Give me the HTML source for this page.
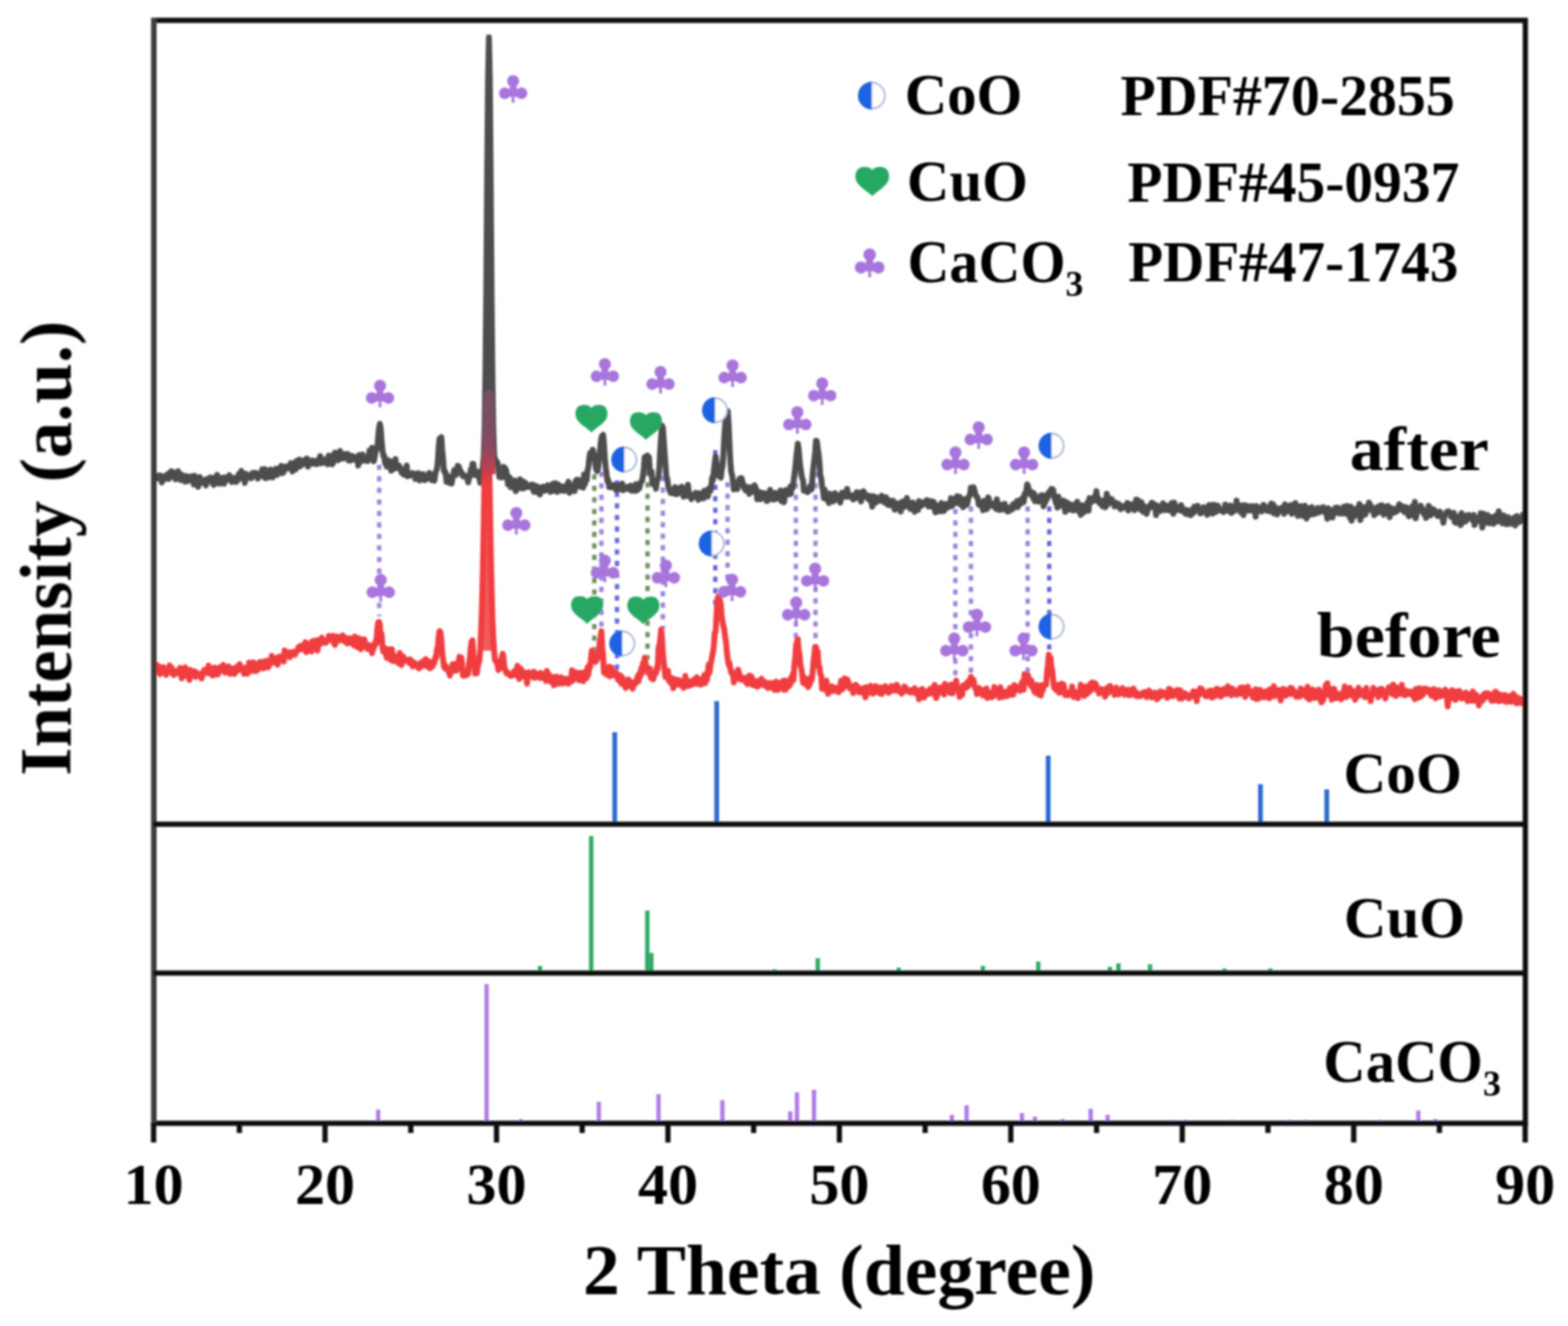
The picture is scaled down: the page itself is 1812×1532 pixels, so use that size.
<!DOCTYPE html>
<html><head><meta charset="utf-8"><title>XRD</title>
<style>html,body{margin:0;padding:0;background:#fff;overflow:hidden;} svg{display:block;} #w{width:1812px;height:1532px;}
text{font-family:'Liberation Serif', 'Times New Roman', serif;font-weight:bold;fill:#000;}</style></head>
<body><div id="w">
<svg width="1812" height="1532" viewBox="0 0 1812 1532">
<defs><filter id="bl" x="-1%" y="-1%" width="102%" height="102%"><feGaussianBlur stdDeviation="0.9"/></filter></defs>
<rect width="1812" height="1532" fill="#fff"/>
<g filter="url(#bl)">
<!-- sticks -->
<g stroke="#2a6ad0" stroke-width="5.5"><line x1="710.4" y1="952" x2="710.4" y2="846" /><line x1="828.2" y1="952" x2="828.2" y2="810" /><line x1="1211.3" y1="952" x2="1211.3" y2="873" /><line x1="1456.6" y1="952" x2="1456.6" y2="906" /><line x1="1533.2" y1="952" x2="1533.2" y2="912" /></g>
<g stroke="#2ea862" stroke-width="5"><line x1="624" y1="1124" x2="624" y2="1116" /><line x1="683.2" y1="1124" x2="683.2" y2="966" /><line x1="748" y1="1124" x2="748" y2="1052" /><line x1="752.7" y1="1124" x2="752.7" y2="1101" /><line x1="895" y1="1124" x2="895" y2="1120" /><line x1="945" y1="1124" x2="945" y2="1107" /><line x1="1038.6" y1="1124" x2="1038.6" y2="1118" /><line x1="1135.8" y1="1124" x2="1135.8" y2="1116" /><line x1="1199.8" y1="1124" x2="1199.8" y2="1111" /><line x1="1282.6" y1="1124" x2="1282.6" y2="1117" /><line x1="1292.5" y1="1124" x2="1292.5" y2="1113" /><line x1="1329" y1="1124" x2="1329" y2="1114" /><line x1="1415" y1="1124" x2="1415" y2="1119" /><line x1="1468" y1="1124" x2="1468" y2="1119" /></g>
<g stroke="#b07ce6" stroke-width="5"><line x1="437" y1="1297" x2="437" y2="1282" /><line x1="562.3" y1="1297" x2="562.3" y2="1137" /><line x1="602" y1="1297" x2="602" y2="1293" /><line x1="692" y1="1297" x2="692" y2="1273" /><line x1="761" y1="1297" x2="761" y2="1264" /><line x1="834.8" y1="1297" x2="834.8" y2="1271" /><line x1="913.2" y1="1297" x2="913.2" y2="1284" /><line x1="921" y1="1297" x2="921" y2="1262" /><line x1="940.7" y1="1297" x2="940.7" y2="1259" /><line x1="1100" y1="1297" x2="1100" y2="1288" /><line x1="1117" y1="1297" x2="1117" y2="1277" /><line x1="1181" y1="1297" x2="1181" y2="1286" /><line x1="1196" y1="1297" x2="1196" y2="1290" /><line x1="1228" y1="1297" x2="1228" y2="1293" /><line x1="1260.4" y1="1297" x2="1260.4" y2="1281" /><line x1="1280" y1="1297" x2="1280" y2="1288" /><line x1="1353" y1="1297" x2="1353" y2="1294" /><line x1="1370" y1="1297" x2="1370" y2="1294" /><line x1="1424" y1="1297" x2="1424" y2="1294" /><line x1="1490" y1="1297" x2="1490" y2="1294" /><line x1="1508" y1="1297" x2="1508" y2="1294" /><line x1="1594" y1="1297" x2="1594" y2="1294" /><line x1="1639" y1="1297" x2="1639" y2="1283" /><line x1="1658.6" y1="1297" x2="1658.6" y2="1293" /></g>
<!-- dotted guide lines -->
<line x1="438.2" y1="537" x2="438.2" y2="712" stroke="#9c84d8" stroke-width="5" stroke-dasharray="6 7.3"/><line x1="695" y1="545" x2="695" y2="735" stroke="#9c84d8" stroke-width="5" stroke-dasharray="6 7.3"/><line x1="766" y1="550" x2="766" y2="727" stroke="#9c84d8" stroke-width="5" stroke-dasharray="6 7.3"/><line x1="840.8" y1="557" x2="840.8" y2="690" stroke="#9c84d8" stroke-width="5" stroke-dasharray="6 7.3"/><line x1="919.7" y1="545" x2="919.7" y2="738" stroke="#9c84d8" stroke-width="5" stroke-dasharray="6 7.3"/><line x1="942.4" y1="545" x2="942.4" y2="742" stroke="#9c84d8" stroke-width="5" stroke-dasharray="6 7.3"/><line x1="1104" y1="588" x2="1104" y2="785" stroke="#9c84d8" stroke-width="5" stroke-dasharray="6 7.3"/><line x1="1122" y1="585" x2="1122" y2="781" stroke="#9c84d8" stroke-width="5" stroke-dasharray="6 7.3"/><line x1="1187.6" y1="585" x2="1187.6" y2="778" stroke="#9c84d8" stroke-width="5" stroke-dasharray="6 7.3"/><line x1="686.8" y1="548" x2="686.8" y2="755" stroke="#6f8f5f" stroke-width="5" stroke-dasharray="6 7.3"/><line x1="748.3" y1="544" x2="748.3" y2="762" stroke="#6f8f5f" stroke-width="5" stroke-dasharray="6 7.3"/><line x1="713" y1="555" x2="713" y2="792" stroke="#6666dc" stroke-width="5" stroke-dasharray="6 7.3"/><line x1="826.6" y1="520" x2="826.6" y2="700" stroke="#6666dc" stroke-width="5" stroke-dasharray="6 7.3"/><line x1="1212.5" y1="585" x2="1212.5" y2="755" stroke="#6666dc" stroke-width="5" stroke-dasharray="6 7.3"/>
<!-- curves -->
<defs><linearGradient id="rg" gradientUnits="userSpaceOnUse" x1="0" y1="450" x2="0" y2="565">
<stop offset="0" stop-color="#745066"/><stop offset="0.42" stop-color="#7e4c64"/><stop offset="0.6" stop-color="#8e4860"/><stop offset="0.82" stop-color="#c83e4c"/><stop offset="0.95" stop-color="#f03c40"/><stop offset="1" stop-color="#f03c40"/></linearGradient></defs>
<path d="M180.0,551.6L181.0,552.8L182.0,551.4L183.0,549.5L184.0,551.1L185.0,549.3L186.0,553.3L187.0,557.5L188.0,550.9L189.0,550.4L190.0,553.8L191.0,552.9L192.0,551.9L193.0,548.3L194.0,550.9L195.0,553.4L196.0,546.5L197.0,549.8L198.0,544.5L199.0,547.5L200.0,545.3L201.0,551.1L202.0,548.0L203.0,553.7L204.0,553.4L205.0,552.6L206.0,544.4L207.0,551.6L208.0,553.3L209.0,554.6L210.0,548.4L211.0,551.7L212.0,549.9L213.0,550.4L214.0,556.5L215.0,549.9L216.0,552.9L217.0,555.9L218.0,550.6L219.0,553.0L220.0,553.8L221.0,554.0L222.0,550.3L223.0,555.2L224.0,559.8L225.0,549.6L226.0,558.1L227.0,555.6L228.0,553.2L229.0,562.5L230.0,558.1L231.0,551.2L232.0,555.5L233.0,557.6L234.0,554.7L235.0,557.8L236.0,555.1L237.0,558.1L238.0,560.9L239.0,553.5L240.0,556.1L241.0,553.8L242.0,555.8L243.0,551.5L244.0,554.2L245.0,555.7L246.0,559.2L247.0,560.2L248.0,551.7L249.0,553.3L250.0,558.2L251.0,548.7L252.0,553.9L253.0,554.0L254.0,558.8L255.0,556.3L256.0,552.5L257.0,552.0L258.0,552.7L259.0,558.9L260.0,551.7L261.0,551.9L262.0,554.7L263.0,552.7L264.0,552.4L265.0,549.1L266.0,552.7L267.0,551.1L268.0,556.9L269.0,555.0L270.0,553.2L271.0,555.6L272.0,551.9L273.0,556.9L274.0,552.9L275.0,554.7L276.0,547.7L277.0,552.9L278.0,545.9L279.0,544.1L280.0,549.9L281.0,547.3L282.0,550.8L283.0,558.0L284.0,547.4L285.0,548.3L286.0,550.9L287.0,551.6L288.0,549.0L289.0,548.8L290.0,552.6L291.0,551.8L292.0,546.4L293.0,549.6L294.0,549.8L295.0,546.2L296.0,550.4L297.0,546.8L298.0,552.9L299.0,549.6L300.0,549.0L301.0,546.9L302.0,548.6L303.0,542.3L304.0,545.1L305.0,550.9L306.0,542.0L307.0,552.3L308.0,543.5L309.0,552.0L310.0,546.0L311.0,551.1L312.0,548.3L313.0,542.4L314.0,551.3L315.0,551.6L316.0,546.3L317.0,545.0L318.0,544.6L319.0,541.5L320.0,548.9L321.0,542.9L322.0,544.2L323.0,541.0L324.0,541.2L325.0,538.3L326.0,546.9L327.0,541.7L328.0,545.5L329.0,541.5L330.0,539.1L331.0,539.7L332.0,539.0L333.0,541.0L334.0,539.2L335.0,538.7L336.0,535.0L337.0,536.2L338.0,544.8L339.0,536.5L340.0,534.9L341.0,539.1L342.0,542.2L343.0,532.3L344.0,536.6L345.0,535.2L346.0,530.9L347.0,538.9L348.0,535.1L349.0,534.9L350.0,532.5L351.0,536.1L352.0,532.8L353.0,533.9L354.0,529.9L355.0,529.8L356.0,539.1L357.0,533.0L358.0,535.7L359.0,534.2L360.0,533.2L361.0,532.1L362.0,535.7L363.0,532.7L364.0,532.9L365.0,532.7L366.0,536.4L367.0,534.6L368.0,533.4L369.0,529.6L370.0,527.0L371.0,535.4L372.0,534.7L373.0,530.7L374.0,533.5L375.0,534.4L376.0,534.9L377.0,534.8L378.0,529.7L379.0,536.5L380.0,526.3L381.0,533.5L382.0,532.4L383.0,533.3L384.0,536.5L385.0,534.5L386.0,525.1L387.0,523.1L388.0,531.5L389.0,525.4L390.0,528.8L391.0,531.7L392.0,522.9L393.0,521.0L394.0,529.8L395.0,529.3L396.0,528.1L397.0,529.7L398.0,526.2L399.0,524.5L400.0,529.0L401.0,526.8L402.0,524.6L403.0,532.1L404.0,529.9L405.0,532.2L406.0,526.7L407.0,528.0L408.0,527.2L409.0,527.6L410.0,531.0L411.0,528.3L412.0,532.1L413.0,532.0L414.0,537.8L415.0,525.7L416.0,534.0L417.0,530.4L418.0,530.4L419.0,525.2L420.0,528.1L421.0,532.2L422.0,529.3L423.0,529.7L424.0,528.2L425.0,532.8L426.0,528.2L427.0,520.5L428.0,526.2L429.0,521.5L430.0,517.2L431.0,526.9L432.0,532.9L433.0,527.9L434.0,521.7L435.0,518.8L436.0,518.8L437.0,505.1L438.0,494.7L439.0,489.7L440.0,495.8L441.0,509.7L442.0,519.7L443.0,526.7L444.0,526.7L445.0,535.0L446.0,532.1L447.0,539.1L448.0,531.4L449.0,535.6L450.0,536.7L451.0,532.9L452.0,543.8L453.0,543.2L454.0,536.8L455.0,541.3L456.0,540.5L457.0,530.3L458.0,540.8L459.0,540.1L460.0,540.8L461.0,537.7L462.0,540.8L463.0,541.0L464.0,546.2L465.0,543.1L466.0,542.9L467.0,548.5L468.0,541.9L469.0,542.8L470.0,537.8L471.0,550.3L472.0,549.4L473.0,549.6L474.0,549.4L475.0,547.4L476.0,547.9L477.0,546.5L478.0,547.2L479.0,547.9L480.0,553.4L481.0,550.1L482.0,548.5L483.0,546.6L484.0,546.9L485.0,555.2L486.0,551.8L487.0,550.9L488.0,550.1L489.0,547.7L490.0,551.3L491.0,554.8L492.0,550.9L493.0,551.2L494.0,551.6L495.0,552.7L496.0,546.4L497.0,551.3L498.0,548.9L499.0,554.6L500.0,548.5L501.0,552.8L502.0,555.4L503.0,547.5L504.0,543.7L505.0,541.7L506.0,532.1L507.0,515.3L508.0,506.7L509.0,506.3L510.0,505.0L511.0,519.2L512.0,529.8L513.0,544.2L514.0,543.9L515.0,546.6L516.0,556.6L517.0,549.4L518.0,556.3L519.0,557.7L520.0,553.8L521.0,554.4L522.0,558.6L523.0,550.2L524.0,547.9L525.0,542.9L526.0,546.1L527.0,548.8L528.0,545.9L529.0,538.2L530.0,539.0L531.0,541.4L532.0,545.5L533.0,545.0L534.0,548.4L535.0,550.2L536.0,548.8L537.0,550.1L538.0,551.1L539.0,550.4L540.0,552.4L541.0,557.3L542.0,552.6L543.0,550.3L544.0,542.5L545.0,547.5L546.0,535.9L547.0,535.9L548.0,545.3L549.0,548.7L550.0,548.4L551.0,544.5L552.0,549.7L553.0,548.8L554.0,552.9L555.0,557.7L556.0,550.1L557.0,545.2L558.0,538.1L559.0,527.7L560.0,494.6L561.0,426.7L562.0,328.1L563.0,196.4L564.0,90.8L565.0,43.1L566.0,90.0L567.0,198.2L568.0,329.5L569.0,429.9L570.0,493.0L571.0,524.7L572.0,532.0L573.0,531.4L574.0,536.9L575.0,534.6L576.0,542.1L577.0,551.1L578.0,545.3L579.0,549.5L580.0,551.7L581.0,548.2L582.0,539.3L583.0,540.5L584.0,541.2L585.0,543.7L586.0,550.2L587.0,559.9L588.0,560.0L589.0,551.4L590.0,562.7L591.0,560.6L592.0,563.1L593.0,557.4L594.0,557.8L595.0,555.1L596.0,567.4L597.0,557.8L598.0,564.8L599.0,557.2L600.0,560.0L601.0,553.8L602.0,558.7L603.0,564.0L604.0,555.9L605.0,564.4L606.0,562.5L607.0,557.6L608.0,560.0L609.0,560.2L610.0,562.6L611.0,561.6L612.0,560.8L613.0,562.8L614.0,560.3L615.0,559.7L616.0,564.8L617.0,568.4L618.0,560.8L619.0,565.9L620.0,563.6L621.0,562.3L622.0,569.2L623.0,564.3L624.0,571.3L625.0,563.2L626.0,566.9L627.0,564.0L628.0,562.4L629.0,567.0L630.0,563.7L631.0,566.4L632.0,564.5L633.0,560.5L634.0,564.1L635.0,564.9L636.0,568.2L637.0,561.6L638.0,564.5L639.0,559.0L640.0,567.1L641.0,560.8L642.0,558.3L643.0,564.2L644.0,568.4L645.0,559.6L646.0,561.2L647.0,562.7L648.0,561.8L649.0,566.9L650.0,563.1L651.0,563.2L652.0,567.1L653.0,561.6L654.0,565.3L655.0,560.3L656.0,559.5L657.0,556.6L658.0,569.3L659.0,561.0L660.0,562.8L661.0,561.4L662.0,562.2L663.0,561.3L664.0,567.4L665.0,556.5L666.0,554.5L667.0,555.9L668.0,554.2L669.0,562.1L670.0,562.1L671.0,556.1L672.0,555.0L673.0,558.1L674.0,563.4L675.0,548.2L676.0,559.2L677.0,551.4L678.0,554.8L679.0,543.3L680.0,539.7L681.0,528.7L682.0,523.4L683.0,526.6L684.0,521.8L685.0,519.5L686.0,523.0L687.0,525.5L688.0,536.6L689.0,542.4L690.0,544.3L691.0,542.7L692.0,533.0L693.0,526.7L694.0,513.3L695.0,505.7L696.0,503.4L697.0,502.4L698.0,513.5L699.0,530.1L700.0,540.4L701.0,548.3L702.0,556.1L703.0,554.9L704.0,562.7L705.0,561.2L706.0,563.0L707.0,562.0L708.0,560.5L709.0,560.2L710.0,563.5L711.0,562.5L712.0,566.2L713.0,565.2L714.0,560.5L715.0,565.4L716.0,561.1L717.0,563.9L718.0,564.9L719.0,558.7L720.0,566.4L721.0,565.7L722.0,564.8L723.0,563.4L724.0,564.2L725.0,562.5L726.0,564.8L727.0,563.9L728.0,565.7L729.0,561.0L730.0,566.9L731.0,566.8L732.0,565.7L733.0,564.7L734.0,567.1L735.0,559.3L736.0,566.7L737.0,565.7L738.0,564.8L739.0,563.6L740.0,557.7L741.0,556.6L742.0,555.6L743.0,549.3L744.0,541.9L745.0,528.3L746.0,528.6L747.0,526.7L748.0,526.3L749.0,527.6L750.0,528.1L751.0,544.1L752.0,548.0L753.0,544.7L754.0,559.2L755.0,555.2L756.0,557.2L757.0,559.3L758.0,564.7L759.0,556.4L760.0,553.8L761.0,550.9L762.0,539.3L763.0,519.4L764.0,504.8L765.0,491.7L766.0,494.0L767.0,508.1L768.0,522.4L769.0,535.9L770.0,550.6L771.0,552.9L772.0,559.8L773.0,565.5L774.0,566.5L775.0,569.5L776.0,568.5L777.0,567.1L778.0,569.9L779.0,565.1L780.0,562.9L781.0,570.9L782.0,569.2L783.0,570.7L784.0,563.9L785.0,568.1L786.0,567.2L787.0,566.8L788.0,562.2L789.0,569.2L790.0,573.8L791.0,572.1L792.0,568.6L793.0,570.4L794.0,572.9L795.0,560.2L796.0,569.2L797.0,572.4L798.0,572.7L799.0,576.7L800.0,574.5L801.0,571.6L802.0,571.8L803.0,573.8L804.0,569.3L805.0,571.3L806.0,573.5L807.0,577.5L808.0,569.8L809.0,570.0L810.0,571.1L811.0,575.3L812.0,570.5L813.0,575.8L814.0,566.8L815.0,569.2L816.0,569.2L817.0,572.8L818.0,573.6L819.0,564.3L820.0,564.8L821.0,567.3L822.0,560.4L823.0,552.0L824.0,554.6L825.0,543.5L826.0,535.0L827.0,527.3L828.0,534.9L829.0,537.6L830.0,549.3L831.0,547.5L832.0,550.3L833.0,551.9L834.0,543.2L835.0,538.4L836.0,524.5L837.0,504.7L838.0,491.3L839.0,476.3L840.0,475.4L841.0,475.1L842.0,489.5L843.0,512.8L844.0,533.3L845.0,545.8L846.0,548.7L847.0,556.1L848.0,565.5L849.0,562.0L850.0,560.3L851.0,564.6L852.0,564.9L853.0,559.1L854.0,554.4L855.0,552.8L856.0,558.1L857.0,552.4L858.0,556.7L859.0,560.4L860.0,564.2L861.0,562.9L862.0,566.8L863.0,562.5L864.0,565.0L865.0,563.0L866.0,570.6L867.0,566.2L868.0,563.1L869.0,564.0L870.0,564.3L871.0,568.0L872.0,560.7L873.0,563.0L874.0,565.9L875.0,576.8L876.0,571.6L877.0,568.2L878.0,571.6L879.0,576.8L880.0,569.4L881.0,569.4L882.0,574.9L883.0,572.7L884.0,573.6L885.0,570.0L886.0,578.9L887.0,578.5L888.0,574.9L889.0,575.6L890.0,565.8L891.0,576.3L892.0,573.8L893.0,576.0L894.0,577.2L895.0,573.6L896.0,569.4L897.0,576.4L898.0,572.3L899.0,574.0L900.0,572.6L901.0,573.4L902.0,566.7L903.0,578.9L904.0,575.6L905.0,577.4L906.0,580.3L907.0,572.9L908.0,566.3L909.0,569.7L910.0,568.2L911.0,570.0L912.0,571.2L913.0,563.0L914.0,570.3L915.0,561.0L916.0,563.7L917.0,557.0L918.0,548.6L919.0,540.8L920.0,529.8L921.0,521.2L922.0,512.6L923.0,519.0L924.0,531.4L925.0,540.5L926.0,546.8L927.0,552.7L928.0,554.7L929.0,566.9L930.0,564.7L931.0,566.9L932.0,567.2L933.0,568.7L934.0,566.2L935.0,567.1L936.0,562.0L937.0,561.0L938.0,565.3L939.0,549.7L940.0,539.4L941.0,531.7L942.0,522.5L943.0,509.1L944.0,509.8L945.0,517.9L946.0,524.4L947.0,534.4L948.0,550.4L949.0,552.1L950.0,562.3L951.0,565.2L952.0,575.5L953.0,565.7L954.0,571.1L955.0,572.6L956.0,577.8L957.0,578.2L958.0,581.3L959.0,570.5L960.0,578.6L961.0,575.3L962.0,574.6L963.0,579.4L964.0,574.3L965.0,569.8L966.0,575.9L967.0,571.9L968.0,574.7L969.0,577.7L970.0,577.1L971.0,580.7L972.0,574.4L973.0,569.3L974.0,572.0L975.0,570.4L976.0,568.7L977.0,573.8L978.0,569.9L979.0,564.8L980.0,574.0L981.0,571.3L982.0,573.1L983.0,572.5L984.0,574.6L985.0,572.4L986.0,577.1L987.0,574.5L988.0,574.9L989.0,575.5L990.0,568.6L991.0,573.1L992.0,572.7L993.0,574.3L994.0,569.0L995.0,579.4L996.0,574.3L997.0,569.6L998.0,567.6L999.0,573.0L1000.0,573.7L1001.0,571.5L1002.0,575.0L1003.0,573.1L1004.0,577.3L1005.0,572.9L1006.0,575.5L1007.0,579.6L1008.0,585.3L1009.0,573.1L1010.0,575.4L1011.0,574.9L1012.0,580.8L1013.0,574.5L1014.0,577.5L1015.0,578.7L1016.0,575.6L1017.0,575.8L1018.0,578.4L1019.0,572.8L1020.0,574.5L1021.0,578.5L1022.0,580.7L1023.0,579.4L1024.0,574.5L1025.0,578.8L1026.0,583.4L1027.0,582.5L1028.0,580.9L1029.0,578.5L1030.0,584.0L1031.0,580.1L1032.0,578.5L1033.0,580.3L1034.0,588.9L1035.0,584.7L1036.0,587.9L1037.0,581.8L1038.0,586.8L1039.0,581.4L1040.0,582.6L1041.0,591.1L1042.0,584.6L1043.0,579.4L1044.0,581.0L1045.0,582.5L1046.0,585.2L1047.0,579.4L1048.0,575.3L1049.0,580.7L1050.0,582.6L1051.0,583.6L1052.0,588.0L1053.0,584.8L1054.0,586.6L1055.0,580.5L1056.0,587.4L1057.0,591.3L1058.0,586.5L1059.0,584.1L1060.0,583.1L1061.0,589.1L1062.0,578.9L1063.0,581.4L1064.0,583.5L1065.0,584.2L1066.0,580.3L1067.0,582.6L1068.0,580.6L1069.0,582.0L1070.0,581.2L1071.0,577.8L1072.0,582.3L1073.0,585.2L1074.0,578.8L1075.0,581.2L1076.0,585.1L1077.0,579.1L1078.0,584.0L1079.0,579.9L1080.0,587.9L1081.0,592.0L1082.0,591.2L1083.0,583.8L1084.0,587.5L1085.0,585.4L1086.0,585.8L1087.0,590.8L1088.0,581.1L1089.0,589.5L1090.0,585.2L1091.0,590.4L1092.0,585.8L1093.0,582.2L1094.0,585.3L1095.0,586.3L1096.0,584.2L1097.0,585.3L1098.0,581.0L1099.0,575.5L1100.0,584.9L1101.0,583.7L1102.0,580.7L1103.0,578.7L1104.0,581.2L1105.0,574.6L1106.0,573.4L1107.0,575.6L1108.0,581.3L1109.0,573.9L1110.0,582.9L1111.0,577.7L1112.0,577.0L1113.0,586.0L1114.0,581.4L1115.0,576.8L1116.0,580.1L1117.0,583.4L1118.0,581.9L1119.0,574.3L1120.0,573.7L1121.0,571.1L1122.0,563.3L1123.0,564.7L1124.0,563.2L1125.0,563.0L1126.0,565.6L1127.0,570.7L1128.0,573.2L1129.0,573.6L1130.0,576.4L1131.0,582.8L1132.0,580.4L1133.0,583.5L1134.0,585.0L1135.0,583.1L1136.0,589.5L1137.0,578.6L1138.0,584.8L1139.0,580.9L1140.0,588.3L1141.0,587.5L1142.0,574.6L1143.0,577.7L1144.0,583.8L1145.0,584.1L1146.0,584.4L1147.0,582.0L1148.0,584.3L1149.0,585.2L1150.0,583.7L1151.0,587.9L1152.0,576.9L1153.0,587.3L1154.0,581.7L1155.0,589.2L1156.0,585.1L1157.0,583.4L1158.0,588.8L1159.0,584.3L1160.0,584.5L1161.0,582.0L1162.0,587.1L1163.0,589.1L1164.0,590.8L1165.0,587.0L1166.0,590.6L1167.0,586.0L1168.0,585.7L1169.0,587.2L1170.0,588.5L1171.0,582.4L1172.0,582.4L1173.0,582.5L1174.0,582.6L1175.0,578.9L1176.0,586.1L1177.0,580.4L1178.0,583.2L1179.0,577.8L1180.0,581.5L1181.0,580.0L1182.0,574.9L1183.0,580.1L1184.0,570.9L1185.0,572.2L1186.0,566.6L1187.0,559.7L1188.0,561.6L1189.0,566.4L1190.0,567.5L1191.0,570.8L1192.0,572.1L1193.0,568.7L1194.0,575.8L1195.0,570.1L1196.0,579.2L1197.0,575.6L1198.0,576.2L1199.0,578.4L1200.0,579.5L1201.0,573.8L1202.0,573.0L1203.0,575.6L1204.0,572.1L1205.0,576.0L1206.0,585.0L1207.0,575.4L1208.0,580.7L1209.0,572.2L1210.0,576.5L1211.0,571.5L1212.0,568.8L1213.0,568.0L1214.0,570.5L1215.0,564.9L1216.0,566.9L1217.0,565.6L1218.0,574.7L1219.0,574.7L1220.0,580.7L1221.0,579.6L1222.0,586.4L1223.0,573.6L1224.0,580.0L1225.0,584.5L1226.0,581.3L1227.0,580.1L1228.0,581.8L1229.0,578.2L1230.0,583.1L1231.0,591.3L1232.0,587.9L1233.0,580.4L1234.0,581.6L1235.0,583.1L1236.0,588.7L1237.0,582.8L1238.0,583.7L1239.0,589.5L1240.0,589.7L1241.0,585.4L1242.0,583.3L1243.0,582.1L1244.0,585.2L1245.0,579.7L1246.0,590.2L1247.0,585.4L1248.0,589.6L1249.0,594.8L1250.0,592.1L1251.0,583.7L1252.0,590.6L1253.0,591.6L1254.0,584.4L1255.0,583.7L1256.0,586.3L1257.0,580.2L1258.0,590.0L1259.0,575.5L1260.0,578.7L1261.0,580.2L1262.0,578.1L1263.0,578.3L1264.0,576.8L1265.0,573.5L1266.0,578.3L1267.0,567.4L1268.0,575.9L1269.0,575.4L1270.0,579.7L1271.0,581.8L1272.0,578.3L1273.0,579.9L1274.0,584.8L1275.0,582.6L1276.0,578.0L1277.0,586.2L1278.0,585.1L1279.0,570.3L1280.0,575.2L1281.0,582.5L1282.0,577.1L1283.0,576.3L1284.0,576.3L1285.0,577.0L1286.0,579.5L1287.0,579.7L1288.0,585.1L1289.0,582.7L1290.0,583.8L1291.0,581.3L1292.0,585.3L1293.0,582.3L1294.0,584.2L1295.0,588.4L1296.0,586.1L1297.0,587.0L1298.0,585.8L1299.0,584.7L1300.0,583.9L1301.0,583.6L1302.0,587.2L1303.0,581.0L1304.0,589.8L1305.0,584.8L1306.0,582.5L1307.0,583.4L1308.0,583.1L1309.0,586.0L1310.0,583.0L1311.0,589.4L1312.0,582.5L1313.0,577.2L1314.0,583.0L1315.0,577.8L1316.0,585.1L1317.0,588.3L1318.0,587.2L1319.0,580.2L1320.0,582.6L1321.0,591.4L1322.0,586.7L1323.0,585.5L1324.0,589.4L1325.0,593.8L1326.0,589.5L1327.0,585.1L1328.0,585.9L1329.0,586.7L1330.0,582.8L1331.0,580.8L1332.0,585.1L1333.0,581.8L1334.0,585.2L1335.0,586.6L1336.0,595.1L1337.0,584.0L1338.0,586.6L1339.0,586.5L1340.0,588.6L1341.0,590.4L1342.0,585.2L1343.0,584.4L1344.0,581.5L1345.0,584.1L1346.0,589.4L1347.0,587.8L1348.0,584.1L1349.0,586.6L1350.0,588.1L1351.0,589.8L1352.0,586.0L1353.0,586.9L1354.0,581.2L1355.0,583.6L1356.0,593.6L1357.0,580.6L1358.0,587.4L1359.0,589.5L1360.0,587.3L1361.0,585.9L1362.0,589.3L1363.0,589.6L1364.0,589.6L1365.0,583.7L1366.0,590.3L1367.0,587.5L1368.0,589.1L1369.0,592.1L1370.0,593.5L1371.0,593.8L1372.0,589.3L1373.0,594.0L1374.0,594.5L1375.0,594.3L1376.0,595.2L1377.0,589.1L1378.0,589.1L1379.0,592.9L1380.0,585.5L1381.0,590.6L1382.0,588.3L1383.0,589.0L1384.0,584.3L1385.0,587.0L1386.0,590.3L1387.0,593.1L1388.0,592.9L1389.0,588.6L1390.0,588.7L1391.0,586.0L1392.0,589.9L1393.0,587.3L1394.0,590.8L1395.0,594.9L1396.0,588.5L1397.0,583.6L1398.0,586.2L1399.0,583.6L1400.0,584.4L1401.0,593.5L1402.0,589.8L1403.0,583.0L1404.0,589.7L1405.0,591.6L1406.0,585.6L1407.0,584.1L1408.0,585.5L1409.0,587.8L1410.0,588.6L1411.0,590.1L1412.0,590.3L1413.0,590.9L1414.0,591.7L1415.0,590.2L1416.0,582.8L1417.0,587.4L1418.0,588.7L1419.0,586.4L1420.0,590.5L1421.0,586.1L1422.0,584.0L1423.0,592.7L1424.0,589.2L1425.0,587.3L1426.0,589.7L1427.0,590.1L1428.0,587.7L1429.0,578.3L1430.0,585.0L1431.0,585.8L1432.0,584.1L1433.0,588.4L1434.0,592.1L1435.0,586.1L1436.0,583.8L1437.0,595.1L1438.0,586.9L1439.0,583.8L1440.0,589.1L1441.0,589.3L1442.0,585.0L1443.0,590.0L1444.0,586.1L1445.0,584.9L1446.0,588.3L1447.0,589.8L1448.0,584.9L1449.0,588.0L1450.0,586.3L1451.0,596.9L1452.0,584.6L1453.0,591.6L1454.0,586.7L1455.0,586.6L1456.0,589.5L1457.0,590.0L1458.0,590.8L1459.0,587.4L1460.0,583.3L1461.0,583.9L1462.0,587.2L1463.0,587.4L1464.0,589.9L1465.0,586.4L1466.0,588.6L1467.0,590.6L1468.0,586.3L1469.0,581.7L1470.0,582.7L1471.0,582.6L1472.0,593.0L1473.0,585.0L1474.0,592.6L1475.0,590.4L1476.0,594.4L1477.0,591.9L1478.0,587.7L1479.0,587.5L1480.0,588.3L1481.0,588.7L1482.0,586.4L1483.0,587.8L1484.0,593.6L1485.0,582.6L1486.0,588.9L1487.0,584.7L1488.0,588.7L1489.0,590.8L1490.0,588.7L1491.0,590.9L1492.0,583.5L1493.0,593.6L1494.0,587.5L1495.0,592.5L1496.0,591.2L1497.0,581.2L1498.0,588.3L1499.0,590.8L1500.0,596.1L1501.0,591.6L1502.0,590.9L1503.0,584.7L1504.0,594.8L1505.0,595.8L1506.0,590.1L1507.0,589.2L1508.0,584.2L1509.0,593.1L1510.0,599.1L1511.0,592.3L1512.0,594.3L1513.0,591.6L1514.0,586.9L1515.0,594.6L1516.0,585.8L1517.0,589.8L1518.0,591.8L1519.0,594.0L1520.0,592.5L1521.0,592.1L1522.0,588.5L1523.0,586.7L1524.0,592.2L1525.0,589.6L1526.0,587.6L1527.0,587.5L1528.0,590.5L1529.0,585.9L1530.0,588.4L1531.0,587.5L1532.0,593.5L1533.0,593.6L1534.0,599.3L1535.0,587.1L1536.0,590.0L1537.0,595.8L1538.0,591.8L1539.0,591.1L1540.0,597.9L1541.0,590.5L1542.0,588.1L1543.0,586.9L1544.0,592.5L1545.0,592.3L1546.0,586.4L1547.0,587.9L1548.0,593.3L1549.0,593.2L1550.0,589.4L1551.0,593.2L1552.0,593.3L1553.0,585.3L1554.0,590.5L1555.0,593.3L1556.0,589.9L1557.0,584.5L1558.0,591.4L1559.0,594.9L1560.0,598.4L1561.0,585.3L1562.0,601.6L1563.0,588.7L1564.0,595.6L1565.0,596.6L1566.0,595.6L1567.0,592.2L1568.0,587.3L1569.0,593.7L1570.0,588.7L1571.0,582.3L1572.0,600.8L1573.0,593.1L1574.0,596.2L1575.0,585.9L1576.0,594.0L1577.0,594.8L1578.0,594.1L1579.0,588.4L1580.0,584.6L1581.0,588.2L1582.0,580.6L1583.0,582.6L1584.0,589.2L1585.0,585.4L1586.0,588.0L1587.0,588.1L1588.0,595.2L1589.0,592.5L1590.0,587.4L1591.0,592.8L1592.0,585.6L1593.0,586.8L1594.0,591.5L1595.0,584.2L1596.0,587.6L1597.0,583.8L1598.0,589.4L1599.0,594.7L1600.0,585.6L1601.0,589.1L1602.0,585.6L1603.0,584.9L1604.0,584.6L1605.0,593.9L1606.0,597.6L1607.0,590.8L1608.0,587.1L1609.0,592.0L1610.0,588.1L1611.0,592.4L1612.0,590.1L1613.0,589.8L1614.0,591.0L1615.0,586.5L1616.0,587.0L1617.0,582.5L1618.0,586.7L1619.0,583.9L1620.0,588.8L1621.0,586.3L1622.0,590.1L1623.0,591.6L1624.0,585.6L1625.0,587.6L1626.0,586.8L1627.0,593.3L1628.0,596.6L1629.0,593.1L1630.0,589.1L1631.0,595.4L1632.0,584.8L1633.0,594.8L1634.0,587.4L1635.0,579.9L1636.0,598.9L1637.0,594.8L1638.0,586.0L1639.0,590.0L1640.0,588.5L1641.0,589.9L1642.0,584.3L1643.0,587.4L1644.0,591.5L1645.0,590.8L1646.0,594.7L1647.0,590.4L1648.0,598.5L1649.0,588.8L1650.0,591.5L1651.0,584.3L1652.0,586.8L1653.0,595.7L1654.0,587.5L1655.0,593.3L1656.0,591.4L1657.0,588.7L1658.0,590.9L1659.0,591.0L1660.0,591.4L1661.0,595.9L1662.0,596.3L1663.0,592.6L1664.0,591.1L1665.0,595.6L1666.0,594.2L1667.0,598.4L1668.0,604.0L1669.0,597.5L1670.0,594.5L1671.0,593.7L1672.0,591.3L1673.0,591.0L1674.0,590.7L1675.0,592.8L1676.0,592.9L1677.0,597.4L1678.0,594.2L1679.0,595.0L1680.0,592.5L1681.0,603.0L1682.0,599.6L1683.0,604.2L1684.0,600.0L1685.0,602.3L1686.0,596.4L1687.0,599.9L1688.0,606.7L1689.0,592.8L1690.0,601.1L1691.0,603.1L1692.0,598.3L1693.0,600.4L1694.0,602.3L1695.0,595.8L1696.0,599.3L1697.0,594.9L1698.0,595.5L1699.0,596.1L1700.0,597.9L1701.0,600.0L1702.0,601.5L1703.0,594.9L1704.0,606.6L1705.0,603.3L1706.0,602.4L1707.0,598.5L1708.0,599.3L1709.0,601.3L1710.0,600.6L1711.0,592.9L1712.0,601.5L1713.0,609.5L1714.0,593.3L1715.0,603.2L1716.0,600.7L1717.0,598.6L1718.0,603.9L1719.0,594.9L1720.0,599.9L1721.0,604.6L1722.0,598.9L1723.0,597.5L1724.0,599.1L1725.0,597.6L1726.0,605.2L1727.0,597.2L1728.0,603.2L1729.0,595.4L1730.0,602.6L1731.0,599.7L1732.0,590.6L1733.0,599.9L1734.0,595.8L1735.0,598.0L1736.0,604.5L1737.0,595.4L1738.0,595.9L1739.0,604.8L1740.0,600.1L1741.0,605.6L1742.0,601.6L1743.0,597.5L1744.0,600.3L1745.0,605.2L1746.0,603.8L1747.0,599.8L1748.0,599.7L1749.0,599.3L1750.0,597.8L1751.0,607.1L1752.0,600.0L1753.0,596.1L1754.0,598.7L1755.0,603.4L1756.0,603.3L1757.0,600.7L1758.0,598.6L1759.0,601.0L1760.0,594.5L1761.0,595.9" fill="none" stroke="#4e4e4e" stroke-width="6.8" stroke-linejoin="round"/>
<path d="M558.0,538.1 L559.0,527.7 L560.0,494.6 L561.0,426.7 L562.0,328.1 L563.0,196.4 L564.0,90.8 L565.0,43.1 L566.0,90.0 L567.0,198.2 L568.0,329.5 L569.0,429.9 L570.0,493.0 L571.0,524.7 L572.0,532.0 Z" fill="#4e4e4e"/>
<path d="M559,455 Q565,446 571,455 L572.5,548 L557.5,548 Z" fill="url(#rg)"/>
<path d="M555.0,751.4 L556.0,727.6 L557.0,700.2 L558.0,659.2 L559.0,605.2 L560.0,544.3 L561.0,489.4 L562.0,461.6 L563.0,455.2 L564.0,473.3 L565.0,515.4 L566.0,568.5 L567.0,629.4 L568.0,675.5 L569.0,713.6 L570.0,734.9 L571.0,751.9 Z" fill="url(#rg)" opacity="0.85"/>
<path d="M180.0,771.6L181.0,768.0L182.0,772.8L183.0,775.1L184.0,770.0L185.0,778.8L186.0,771.1L187.0,771.7L188.0,772.3L189.0,770.9L190.0,774.6L191.0,773.6L192.0,779.7L193.0,776.3L194.0,775.9L195.0,773.2L196.0,768.8L197.0,773.2L198.0,770.8L199.0,777.8L200.0,774.1L201.0,779.9L202.0,776.6L203.0,777.1L204.0,775.2L205.0,775.2L206.0,776.9L207.0,778.1L208.0,771.6L209.0,776.7L210.0,783.9L211.0,774.7L212.0,774.5L213.0,773.4L214.0,771.0L215.0,780.6L216.0,776.5L217.0,777.5L218.0,782.8L219.0,785.5L220.0,773.8L221.0,780.1L222.0,778.3L223.0,777.6L224.0,777.4L225.0,775.6L226.0,782.1L227.0,778.9L228.0,777.6L229.0,780.7L230.0,780.3L231.0,779.1L232.0,778.5L233.0,783.9L234.0,779.5L235.0,776.8L236.0,774.0L237.0,776.1L238.0,773.8L239.0,777.5L240.0,777.1L241.0,768.8L242.0,776.0L243.0,778.4L244.0,776.8L245.0,772.4L246.0,780.5L247.0,772.9L248.0,771.2L249.0,772.2L250.0,775.6L251.0,779.3L252.0,779.2L253.0,775.5L254.0,770.9L255.0,772.2L256.0,771.6L257.0,773.9L258.0,768.2L259.0,775.5L260.0,776.9L261.0,774.7L262.0,776.7L263.0,771.4L264.0,769.8L265.0,772.5L266.0,778.7L267.0,778.1L268.0,772.4L269.0,777.7L270.0,772.2L271.0,778.7L272.0,774.9L273.0,771.3L274.0,775.2L275.0,769.4L276.0,769.3L277.0,767.4L278.0,773.9L279.0,772.8L280.0,772.8L281.0,771.9L282.0,778.5L283.0,772.6L284.0,771.6L285.0,777.9L286.0,778.2L287.0,773.1L288.0,765.3L289.0,768.9L290.0,772.9L291.0,770.2L292.0,775.2L293.0,765.2L294.0,772.0L295.0,767.5L296.0,775.3L297.0,770.6L298.0,773.9L299.0,767.9L300.0,765.0L301.0,765.3L302.0,766.5L303.0,764.7L304.0,772.1L305.0,772.0L306.0,768.1L307.0,763.6L308.0,765.9L309.0,763.6L310.0,771.1L311.0,766.7L312.0,767.8L313.0,764.1L314.0,757.7L315.0,761.8L316.0,760.3L317.0,765.3L318.0,764.0L319.0,760.5L320.0,761.9L321.0,767.9L322.0,758.7L323.0,758.6L324.0,760.5L325.0,758.4L326.0,758.1L327.0,760.9L328.0,764.3L329.0,751.3L330.0,756.9L331.0,756.9L332.0,756.1L333.0,755.0L334.0,753.8L335.0,759.3L336.0,753.7L337.0,754.7L338.0,755.2L339.0,755.1L340.0,753.0L341.0,756.5L342.0,752.5L343.0,752.6L344.0,751.2L345.0,747.7L346.0,747.7L347.0,746.3L348.0,750.2L349.0,747.1L350.0,745.5L351.0,749.9L352.0,750.6L353.0,741.9L354.0,753.5L355.0,747.2L356.0,745.9L357.0,749.9L358.0,746.0L359.0,743.2L360.0,752.6L361.0,740.9L362.0,744.1L363.0,747.1L364.0,740.1L365.0,743.7L366.0,744.6L367.0,751.7L368.0,739.3L369.0,741.7L370.0,744.1L371.0,741.8L372.0,736.8L373.0,742.4L374.0,740.5L375.0,741.5L376.0,742.8L377.0,742.4L378.0,740.2L379.0,739.6L380.0,734.7L381.0,737.8L382.0,739.2L383.0,736.9L384.0,737.9L385.0,734.4L386.0,743.0L387.0,745.1L388.0,735.7L389.0,737.9L390.0,735.4L391.0,740.4L392.0,737.4L393.0,737.3L394.0,737.1L395.0,737.6L396.0,734.1L397.0,740.3L398.0,735.8L399.0,741.1L400.0,739.5L401.0,743.4L402.0,739.4L403.0,743.1L404.0,737.3L405.0,742.6L406.0,740.3L407.0,742.4L408.0,741.9L409.0,745.5L410.0,735.3L411.0,743.7L412.0,738.1L413.0,747.6L414.0,737.1L415.0,740.3L416.0,738.0L417.0,750.0L418.0,739.7L419.0,744.6L420.0,742.6L421.0,738.5L422.0,743.8L423.0,747.6L424.0,745.6L425.0,749.9L426.0,745.1L427.0,746.9L428.0,746.1L429.0,749.0L430.0,754.7L431.0,749.7L432.0,748.8L433.0,744.4L434.0,740.8L435.0,743.6L436.0,726.7L437.0,719.1L438.0,718.6L439.0,721.5L440.0,738.8L441.0,732.4L442.0,747.8L443.0,752.7L444.0,748.2L445.0,751.0L446.0,755.4L447.0,760.1L448.0,751.7L449.0,750.1L450.0,759.6L451.0,762.0L452.0,756.2L453.0,750.0L454.0,763.8L455.0,758.5L456.0,763.3L457.0,759.7L458.0,758.5L459.0,758.4L460.0,766.1L461.0,766.3L462.0,754.4L463.0,758.7L464.0,768.3L465.0,761.5L466.0,758.4L467.0,763.6L468.0,763.2L469.0,763.3L470.0,762.2L471.0,762.6L472.0,762.6L473.0,766.0L474.0,761.7L475.0,763.6L476.0,764.2L477.0,770.0L478.0,766.9L479.0,765.6L480.0,768.5L481.0,767.4L482.0,769.7L483.0,767.6L484.0,772.4L485.0,771.2L486.0,766.6L487.0,765.1L488.0,769.5L489.0,768.4L490.0,766.7L491.0,762.2L492.0,761.5L493.0,768.9L494.0,770.5L495.0,770.7L496.0,764.0L497.0,772.1L498.0,766.3L499.0,769.5L500.0,769.7L501.0,765.2L502.0,765.8L503.0,759.4L504.0,760.1L505.0,750.0L506.0,747.3L507.0,734.4L508.0,729.2L509.0,730.2L510.0,738.4L511.0,754.3L512.0,760.9L513.0,769.9L514.0,772.0L515.0,768.9L516.0,772.9L517.0,774.1L518.0,773.0L519.0,777.2L520.0,780.6L521.0,773.4L522.0,774.2L523.0,767.5L524.0,775.2L525.0,774.3L526.0,767.2L527.0,774.9L528.0,774.3L529.0,766.5L530.0,764.5L531.0,758.8L532.0,765.0L533.0,759.5L534.0,767.7L535.0,780.4L536.0,777.0L537.0,780.7L538.0,780.1L539.0,776.1L540.0,779.5L541.0,778.4L542.0,766.6L543.0,759.9L544.0,748.3L545.0,741.1L546.0,739.9L547.0,755.8L548.0,764.1L549.0,778.2L550.0,777.9L551.0,777.9L552.0,770.8L553.0,766.2L554.0,763.3L555.0,751.4L556.0,727.6L557.0,700.2L558.0,659.2L559.0,605.2L560.0,544.3L561.0,489.4L562.0,461.6L563.0,455.2L564.0,473.3L565.0,515.4L566.0,568.5L567.0,629.4L568.0,675.5L569.0,713.6L570.0,734.9L571.0,751.9L572.0,763.0L573.0,763.7L574.0,764.6L575.0,768.8L576.0,774.1L577.0,769.4L578.0,771.4L579.0,762.6L580.0,759.2L581.0,755.3L582.0,761.1L583.0,772.9L584.0,773.2L585.0,777.2L586.0,778.4L587.0,777.5L588.0,777.9L589.0,779.1L590.0,781.0L591.0,780.8L592.0,780.4L593.0,779.1L594.0,775.7L595.0,777.2L596.0,774.2L597.0,780.1L598.0,769.1L599.0,775.2L600.0,784.5L601.0,775.4L602.0,772.7L603.0,776.6L604.0,781.5L605.0,776.7L606.0,779.9L607.0,778.4L608.0,777.5L609.0,789.8L610.0,779.0L611.0,776.7L612.0,777.0L613.0,780.4L614.0,780.9L615.0,782.0L616.0,780.5L617.0,776.0L618.0,783.2L619.0,780.7L620.0,781.5L621.0,778.3L622.0,781.4L623.0,780.4L624.0,783.3L625.0,777.5L626.0,782.5L627.0,783.2L628.0,779.1L629.0,781.1L630.0,780.3L631.0,786.8L632.0,775.1L633.0,782.6L634.0,778.5L635.0,782.8L636.0,787.5L637.0,782.9L638.0,785.8L639.0,782.2L640.0,791.8L641.0,788.4L642.0,789.9L643.0,781.7L644.0,782.7L645.0,790.1L646.0,785.7L647.0,785.6L648.0,788.1L649.0,782.5L650.0,789.9L651.0,786.7L652.0,788.4L653.0,784.5L654.0,788.6L655.0,784.1L656.0,789.6L657.0,789.8L658.0,788.8L659.0,786.5L660.0,786.9L661.0,774.5L662.0,786.5L663.0,782.6L664.0,782.7L665.0,781.2L666.0,776.8L667.0,779.7L668.0,783.6L669.0,786.0L670.0,779.1L671.0,777.4L672.0,785.3L673.0,777.6L674.0,787.1L675.0,780.3L676.0,776.5L677.0,782.3L678.0,783.4L679.0,771.1L680.0,779.3L681.0,769.0L682.0,770.8L683.0,760.2L684.0,751.6L685.0,756.2L686.0,757.3L687.0,763.6L688.0,764.6L689.0,763.6L690.0,761.6L691.0,758.5L692.0,753.1L693.0,742.1L694.0,736.3L695.0,729.3L696.0,747.7L697.0,758.8L698.0,777.1L699.0,776.7L700.0,775.5L701.0,779.5L702.0,773.1L703.0,775.2L704.0,770.2L705.0,781.4L706.0,777.6L707.0,771.3L708.0,776.0L709.0,780.3L710.0,780.4L711.0,780.5L712.0,777.1L713.0,779.0L714.0,782.4L715.0,786.0L716.0,780.5L717.0,780.5L718.0,789.5L719.0,782.4L720.0,790.6L721.0,788.4L722.0,791.2L723.0,794.9L724.0,790.6L725.0,790.9L726.0,785.0L727.0,785.6L728.0,790.5L729.0,793.1L730.0,792.8L731.0,795.7L732.0,788.4L733.0,788.5L734.0,790.5L735.0,786.5L736.0,785.4L737.0,780.9L738.0,787.1L739.0,778.1L740.0,781.5L741.0,772.2L742.0,777.4L743.0,766.1L744.0,769.4L745.0,759.8L746.0,765.1L747.0,773.9L748.0,770.7L749.0,777.3L750.0,777.3L751.0,772.3L752.0,783.0L753.0,783.8L754.0,778.4L755.0,784.8L756.0,780.0L757.0,777.4L758.0,777.9L759.0,770.9L760.0,773.1L761.0,748.8L762.0,745.6L763.0,738.8L764.0,727.5L765.0,735.8L766.0,755.5L767.0,763.4L768.0,774.5L769.0,782.4L770.0,780.4L771.0,780.0L772.0,774.9L773.0,786.4L774.0,783.6L775.0,788.9L776.0,788.7L777.0,783.5L778.0,795.1L779.0,792.9L780.0,791.8L781.0,785.0L782.0,788.0L783.0,787.5L784.0,788.0L785.0,785.8L786.0,791.5L787.0,790.5L788.0,791.3L789.0,788.5L790.0,794.6L791.0,790.8L792.0,781.0L793.0,788.2L794.0,789.8L795.0,792.7L796.0,788.5L797.0,788.3L798.0,787.2L799.0,791.5L800.0,787.2L801.0,786.1L802.0,785.2L803.0,789.7L804.0,786.1L805.0,782.4L806.0,790.2L807.0,784.7L808.0,788.0L809.0,788.2L810.0,791.0L811.0,789.9L812.0,783.9L813.0,784.5L814.0,779.7L815.0,789.3L816.0,783.5L817.0,785.5L818.0,777.0L819.0,767.7L820.0,777.1L821.0,768.0L822.0,763.9L823.0,757.7L824.0,753.3L825.0,745.8L826.0,730.7L827.0,730.2L828.0,710.6L829.0,693.3L830.0,689.0L831.0,688.7L832.0,694.6L833.0,697.9L834.0,711.5L835.0,718.6L836.0,723.5L837.0,727.2L838.0,736.4L839.0,741.5L840.0,753.7L841.0,761.9L842.0,767.7L843.0,766.1L844.0,773.0L845.0,777.3L846.0,776.0L847.0,778.8L848.0,788.5L849.0,782.7L850.0,785.0L851.0,780.3L852.0,780.8L853.0,773.7L854.0,777.4L855.0,780.7L856.0,785.2L857.0,784.1L858.0,785.0L859.0,784.7L860.0,783.1L861.0,785.9L862.0,788.5L863.0,784.3L864.0,790.4L865.0,783.1L866.0,780.6L867.0,783.3L868.0,781.3L869.0,782.7L870.0,791.6L871.0,787.1L872.0,788.3L873.0,792.0L874.0,792.8L875.0,786.9L876.0,793.2L877.0,790.2L878.0,789.5L879.0,790.5L880.0,784.2L881.0,786.5L882.0,789.1L883.0,791.9L884.0,787.9L885.0,789.2L886.0,793.2L887.0,794.6L888.0,792.6L889.0,794.7L890.0,788.9L891.0,789.6L892.0,791.7L893.0,790.3L894.0,789.3L895.0,797.1L896.0,790.1L897.0,787.5L898.0,792.8L899.0,797.3L900.0,791.2L901.0,794.9L902.0,788.9L903.0,788.6L904.0,787.4L905.0,789.9L906.0,797.0L907.0,786.2L908.0,796.8L909.0,787.2L910.0,789.8L911.0,793.4L912.0,792.6L913.0,791.0L914.0,783.3L915.0,787.7L916.0,779.2L917.0,785.5L918.0,767.7L919.0,760.0L920.0,745.2L921.0,741.2L922.0,738.5L923.0,751.6L924.0,756.5L925.0,768.7L926.0,772.2L927.0,779.2L928.0,788.9L929.0,784.2L930.0,783.0L931.0,790.6L932.0,785.9L933.0,789.0L934.0,793.7L935.0,786.9L936.0,790.2L937.0,782.4L938.0,785.7L939.0,778.4L940.0,764.4L941.0,757.3L942.0,747.4L943.0,747.5L944.0,753.8L945.0,752.8L946.0,770.0L947.0,770.3L948.0,778.8L949.0,780.3L950.0,795.9L951.0,790.5L952.0,792.6L953.0,789.9L954.0,796.8L955.0,786.3L956.0,793.8L957.0,801.6L958.0,793.1L959.0,795.4L960.0,797.8L961.0,792.9L962.0,795.8L963.0,798.6L964.0,795.9L965.0,796.9L966.0,794.5L967.0,796.4L968.0,795.2L969.0,799.9L970.0,797.2L971.0,794.0L972.0,786.3L973.0,796.8L974.0,795.7L975.0,788.4L976.0,783.8L977.0,785.9L978.0,792.4L979.0,784.9L980.0,787.0L981.0,790.6L982.0,795.4L983.0,792.5L984.0,793.7L985.0,792.9L986.0,800.9L987.0,799.0L988.0,795.4L989.0,791.1L990.0,793.6L991.0,798.4L992.0,794.0L993.0,799.9L994.0,798.3L995.0,797.9L996.0,800.1L997.0,799.2L998.0,795.0L999.0,796.8L1000.0,805.6L1001.0,793.8L1002.0,796.0L1003.0,801.2L1004.0,796.8L1005.0,794.1L1006.0,792.3L1007.0,798.5L1008.0,799.8L1009.0,801.4L1010.0,796.9L1011.0,800.1L1012.0,792.7L1013.0,797.1L1014.0,794.1L1015.0,797.5L1016.0,800.0L1017.0,801.2L1018.0,794.2L1019.0,801.8L1020.0,796.2L1021.0,794.7L1022.0,797.7L1023.0,792.6L1024.0,798.1L1025.0,799.2L1026.0,797.6L1027.0,800.4L1028.0,797.3L1029.0,798.0L1030.0,792.7L1031.0,798.0L1032.0,795.2L1033.0,795.8L1034.0,796.7L1035.0,797.8L1036.0,791.2L1037.0,791.7L1038.0,795.8L1039.0,798.6L1040.0,798.2L1041.0,800.0L1042.0,801.4L1043.0,798.7L1044.0,796.6L1045.0,793.3L1046.0,793.5L1047.0,795.9L1048.0,798.5L1049.0,798.0L1050.0,797.5L1051.0,797.3L1052.0,800.2L1053.0,798.8L1054.0,798.9L1055.0,799.3L1056.0,796.5L1057.0,795.1L1058.0,801.0L1059.0,800.9L1060.0,799.0L1061.0,798.4L1062.0,808.0L1063.0,797.5L1064.0,799.2L1065.0,801.2L1066.0,796.0L1067.0,800.2L1068.0,805.8L1069.0,802.6L1070.0,801.4L1071.0,800.9L1072.0,798.7L1073.0,801.7L1074.0,796.8L1075.0,795.9L1076.0,797.8L1077.0,801.0L1078.0,799.4L1079.0,800.6L1080.0,791.3L1081.0,802.8L1082.0,806.5L1083.0,803.4L1084.0,797.0L1085.0,795.1L1086.0,798.8L1087.0,794.1L1088.0,799.9L1089.0,795.6L1090.0,800.9L1091.0,802.4L1092.0,790.1L1093.0,798.7L1094.0,795.5L1095.0,793.0L1096.0,795.5L1097.0,796.4L1098.0,800.6L1099.0,790.8L1100.0,798.8L1101.0,801.1L1102.0,794.2L1103.0,792.5L1104.0,789.9L1105.0,786.3L1106.0,794.1L1107.0,794.9L1108.0,797.7L1109.0,805.2L1110.0,799.5L1111.0,799.1L1112.0,802.7L1113.0,792.0L1114.0,791.9L1115.0,793.5L1116.0,791.1L1117.0,794.4L1118.0,788.0L1119.0,792.9L1120.0,789.4L1121.0,785.5L1122.0,781.9L1123.0,786.5L1124.0,789.2L1125.0,785.2L1126.0,792.1L1127.0,795.6L1128.0,795.1L1129.0,801.9L1130.0,801.5L1131.0,794.7L1132.0,799.2L1133.0,796.7L1134.0,801.6L1135.0,796.9L1136.0,803.4L1137.0,801.9L1138.0,803.5L1139.0,799.5L1140.0,795.4L1141.0,806.3L1142.0,799.2L1143.0,804.6L1144.0,801.2L1145.0,801.8L1146.0,805.7L1147.0,800.5L1148.0,804.5L1149.0,793.7L1150.0,802.1L1151.0,798.6L1152.0,799.3L1153.0,800.0L1154.0,801.3L1155.0,806.0L1156.0,793.9L1157.0,800.4L1158.0,798.4L1159.0,805.3L1160.0,799.6L1161.0,802.8L1162.0,799.6L1163.0,803.0L1164.0,804.2L1165.0,798.8L1166.0,800.5L1167.0,794.9L1168.0,800.7L1169.0,802.5L1170.0,796.8L1171.0,802.5L1172.0,791.7L1173.0,791.9L1174.0,793.1L1175.0,795.9L1176.0,797.1L1177.0,796.0L1178.0,795.5L1179.0,798.0L1180.0,792.7L1181.0,788.3L1182.0,786.9L1183.0,796.9L1184.0,779.0L1185.0,784.9L1186.0,789.1L1187.0,784.9L1188.0,780.2L1189.0,784.1L1190.0,788.9L1191.0,791.7L1192.0,786.3L1193.0,794.1L1194.0,793.8L1195.0,798.0L1196.0,800.1L1197.0,794.6L1198.0,791.2L1199.0,797.6L1200.0,802.3L1201.0,797.9L1202.0,796.6L1203.0,803.6L1204.0,791.3L1205.0,797.8L1206.0,791.8L1207.0,792.7L1208.0,790.6L1209.0,791.1L1210.0,776.0L1211.0,768.1L1212.0,756.4L1213.0,760.1L1214.0,759.9L1215.0,771.1L1216.0,774.3L1217.0,784.5L1218.0,794.3L1219.0,792.7L1220.0,796.9L1221.0,797.7L1222.0,795.0L1223.0,791.1L1224.0,800.3L1225.0,797.6L1226.0,799.8L1227.0,789.8L1228.0,791.9L1229.0,790.9L1230.0,796.0L1231.0,803.2L1232.0,801.9L1233.0,800.0L1234.0,801.1L1235.0,803.2L1236.0,799.6L1237.0,802.1L1238.0,801.3L1239.0,793.2L1240.0,799.5L1241.0,805.4L1242.0,799.7L1243.0,800.7L1244.0,800.1L1245.0,801.3L1246.0,806.5L1247.0,801.4L1248.0,798.4L1249.0,791.0L1250.0,799.8L1251.0,794.9L1252.0,795.4L1253.0,804.1L1254.0,802.6L1255.0,793.1L1256.0,801.9L1257.0,800.0L1258.0,794.7L1259.0,799.4L1260.0,790.1L1261.0,790.5L1262.0,788.5L1263.0,789.0L1264.0,796.2L1265.0,789.1L1266.0,790.0L1267.0,792.2L1268.0,797.0L1269.0,796.2L1270.0,801.3L1271.0,797.0L1272.0,796.0L1273.0,798.6L1274.0,800.4L1275.0,796.9L1276.0,800.6L1277.0,805.0L1278.0,795.9L1279.0,797.4L1280.0,801.2L1281.0,793.5L1282.0,793.1L1283.0,792.5L1284.0,798.2L1285.0,798.9L1286.0,797.3L1287.0,798.4L1288.0,802.9L1289.0,801.7L1290.0,794.4L1291.0,799.3L1292.0,800.0L1293.0,802.3L1294.0,799.7L1295.0,798.8L1296.0,799.2L1297.0,794.9L1298.0,801.1L1299.0,799.2L1300.0,802.7L1301.0,797.3L1302.0,799.8L1303.0,797.4L1304.0,796.8L1305.0,803.2L1306.0,799.3L1307.0,802.9L1308.0,797.6L1309.0,802.3L1310.0,795.5L1311.0,799.4L1312.0,799.6L1313.0,804.0L1314.0,802.7L1315.0,801.1L1316.0,804.4L1317.0,801.9L1318.0,802.4L1319.0,803.9L1320.0,801.1L1321.0,800.4L1322.0,802.3L1323.0,799.4L1324.0,803.3L1325.0,805.4L1326.0,804.7L1327.0,800.4L1328.0,797.8L1329.0,801.9L1330.0,801.6L1331.0,805.8L1332.0,800.9L1333.0,800.9L1334.0,804.0L1335.0,800.1L1336.0,801.8L1337.0,807.9L1338.0,807.0L1339.0,803.9L1340.0,803.0L1341.0,798.8L1342.0,804.2L1343.0,802.8L1344.0,802.7L1345.0,799.8L1346.0,801.7L1347.0,801.0L1348.0,802.8L1349.0,806.4L1350.0,802.7L1351.0,795.8L1352.0,798.5L1353.0,796.8L1354.0,799.7L1355.0,804.5L1356.0,803.6L1357.0,800.4L1358.0,803.0L1359.0,799.5L1360.0,797.1L1361.0,797.3L1362.0,799.2L1363.0,807.0L1364.0,797.5L1365.0,807.0L1366.0,807.0L1367.0,802.1L1368.0,802.6L1369.0,800.9L1370.0,802.7L1371.0,804.7L1372.0,802.6L1373.0,805.8L1374.0,806.9L1375.0,804.0L1376.0,804.0L1377.0,802.7L1378.0,803.9L1379.0,798.7L1380.0,804.5L1381.0,803.4L1382.0,799.9L1383.0,810.0L1384.0,798.9L1385.0,798.9L1386.0,802.6L1387.0,795.2L1388.0,799.0L1389.0,796.1L1390.0,798.5L1391.0,800.7L1392.0,801.6L1393.0,804.2L1394.0,803.3L1395.0,804.4L1396.0,801.8L1397.0,798.3L1398.0,804.0L1399.0,798.1L1400.0,797.9L1401.0,806.0L1402.0,803.7L1403.0,802.1L1404.0,804.2L1405.0,803.9L1406.0,795.6L1407.0,800.0L1408.0,796.4L1409.0,800.6L1410.0,798.0L1411.0,804.8L1412.0,801.5L1413.0,796.6L1414.0,800.1L1415.0,795.9L1416.0,800.5L1417.0,802.0L1418.0,801.0L1419.0,792.8L1420.0,798.2L1421.0,801.0L1422.0,800.5L1423.0,803.3L1424.0,795.3L1425.0,801.7L1426.0,797.4L1427.0,800.7L1428.0,801.8L1429.0,802.7L1430.0,798.2L1431.0,800.6L1432.0,796.6L1433.0,794.9L1434.0,801.6L1435.0,799.7L1436.0,794.1L1437.0,796.3L1438.0,799.3L1439.0,805.2L1440.0,803.4L1441.0,801.8L1442.0,793.5L1443.0,798.9L1444.0,801.0L1445.0,800.7L1446.0,801.1L1447.0,799.0L1448.0,805.9L1449.0,804.7L1450.0,799.7L1451.0,796.2L1452.0,807.6L1453.0,798.1L1454.0,804.5L1455.0,806.8L1456.0,796.9L1457.0,800.8L1458.0,798.8L1459.0,801.3L1460.0,800.2L1461.0,805.6L1462.0,800.7L1463.0,798.7L1464.0,802.6L1465.0,797.8L1466.0,797.7L1467.0,806.8L1468.0,796.5L1469.0,798.0L1470.0,799.7L1471.0,796.5L1472.0,792.8L1473.0,804.4L1474.0,798.0L1475.0,798.9L1476.0,799.0L1477.0,797.1L1478.0,797.2L1479.0,801.5L1480.0,809.3L1481.0,803.6L1482.0,803.4L1483.0,795.8L1484.0,801.1L1485.0,797.1L1486.0,803.8L1487.0,800.0L1488.0,801.2L1489.0,800.4L1490.0,798.3L1491.0,794.8L1492.0,802.0L1493.0,795.1L1494.0,796.6L1495.0,800.0L1496.0,798.8L1497.0,802.2L1498.0,805.1L1499.0,802.6L1500.0,803.1L1501.0,802.0L1502.0,804.9L1503.0,795.3L1504.0,803.2L1505.0,798.4L1506.0,797.5L1507.0,802.0L1508.0,800.6L1509.0,803.2L1510.0,805.6L1511.0,793.4L1512.0,801.4L1513.0,808.1L1514.0,805.1L1515.0,807.1L1516.0,802.0L1517.0,796.7L1518.0,798.0L1519.0,804.7L1520.0,806.3L1521.0,800.2L1522.0,802.3L1523.0,803.6L1524.0,796.6L1525.0,802.3L1526.0,809.0L1527.0,811.6L1528.0,803.7L1529.0,809.6L1530.0,800.9L1531.0,798.7L1532.0,791.8L1533.0,798.1L1534.0,789.5L1535.0,802.9L1536.0,800.3L1537.0,801.9L1538.0,796.0L1539.0,808.4L1540.0,802.0L1541.0,802.9L1542.0,795.8L1543.0,806.6L1544.0,806.7L1545.0,801.2L1546.0,803.0L1547.0,804.2L1548.0,805.5L1549.0,802.4L1550.0,807.8L1551.0,800.8L1552.0,799.7L1553.0,799.9L1554.0,793.0L1555.0,799.4L1556.0,805.4L1557.0,802.8L1558.0,798.9L1559.0,802.8L1560.0,794.7L1561.0,800.8L1562.0,803.7L1563.0,803.8L1564.0,798.7L1565.0,804.8L1566.0,808.5L1567.0,800.8L1568.0,805.0L1569.0,796.8L1570.0,794.6L1571.0,803.3L1572.0,801.3L1573.0,801.1L1574.0,798.2L1575.0,799.2L1576.0,802.7L1577.0,805.3L1578.0,799.0L1579.0,794.8L1580.0,805.1L1581.0,802.9L1582.0,804.1L1583.0,802.1L1584.0,810.1L1585.0,802.1L1586.0,803.8L1587.0,794.7L1588.0,798.8L1589.0,798.1L1590.0,800.0L1591.0,801.2L1592.0,797.7L1593.0,805.5L1594.0,796.3L1595.0,798.3L1596.0,801.1L1597.0,795.8L1598.0,802.6L1599.0,802.9L1600.0,799.4L1601.0,807.1L1602.0,800.5L1603.0,800.7L1604.0,796.7L1605.0,794.0L1606.0,797.4L1607.0,798.3L1608.0,797.7L1609.0,801.9L1610.0,791.0L1611.0,795.6L1612.0,793.2L1613.0,804.2L1614.0,797.2L1615.0,797.0L1616.0,795.1L1617.0,801.9L1618.0,797.1L1619.0,799.0L1620.0,791.2L1621.0,802.3L1622.0,799.7L1623.0,800.5L1624.0,803.3L1625.0,797.9L1626.0,798.6L1627.0,802.0L1628.0,801.5L1629.0,799.5L1630.0,800.9L1631.0,799.0L1632.0,803.3L1633.0,804.5L1634.0,801.5L1635.0,807.8L1636.0,796.2L1637.0,800.2L1638.0,806.6L1639.0,799.2L1640.0,795.0L1641.0,805.3L1642.0,802.3L1643.0,796.2L1644.0,803.1L1645.0,796.3L1646.0,795.5L1647.0,799.5L1648.0,798.4L1649.0,796.1L1650.0,799.1L1651.0,796.8L1652.0,800.8L1653.0,800.9L1654.0,803.7L1655.0,799.5L1656.0,796.4L1657.0,796.1L1658.0,800.3L1659.0,806.7L1660.0,804.8L1661.0,799.4L1662.0,805.0L1663.0,797.3L1664.0,804.7L1665.0,799.8L1666.0,804.0L1667.0,803.1L1668.0,799.4L1669.0,801.5L1670.0,796.6L1671.0,799.7L1672.0,804.8L1673.0,816.1L1674.0,804.4L1675.0,802.6L1676.0,799.1L1677.0,807.2L1678.0,797.3L1679.0,800.2L1680.0,804.8L1681.0,798.6L1682.0,808.6L1683.0,806.8L1684.0,800.7L1685.0,801.0L1686.0,798.2L1687.0,798.6L1688.0,805.6L1689.0,806.9L1690.0,806.1L1691.0,805.5L1692.0,803.3L1693.0,806.7L1694.0,800.2L1695.0,805.3L1696.0,810.1L1697.0,809.3L1698.0,802.4L1699.0,802.6L1700.0,808.8L1701.0,809.7L1702.0,798.8L1703.0,803.1L1704.0,805.9L1705.0,809.6L1706.0,802.6L1707.0,808.3L1708.0,805.5L1709.0,815.0L1710.0,808.5L1711.0,806.3L1712.0,805.1L1713.0,809.8L1714.0,808.2L1715.0,802.0L1716.0,806.5L1717.0,800.9L1718.0,802.8L1719.0,801.4L1720.0,801.1L1721.0,803.9L1722.0,802.3L1723.0,808.3L1724.0,809.6L1725.0,805.5L1726.0,802.3L1727.0,809.5L1728.0,799.1L1729.0,799.4L1730.0,808.7L1731.0,809.0L1732.0,810.2L1733.0,805.7L1734.0,802.6L1735.0,805.9L1736.0,809.6L1737.0,804.7L1738.0,805.4L1739.0,802.9L1740.0,803.6L1741.0,811.0L1742.0,809.5L1743.0,804.3L1744.0,804.2L1745.0,806.4L1746.0,810.9L1747.0,804.5L1748.0,808.1L1749.0,801.5L1750.0,804.5L1751.0,811.2L1752.0,812.3L1753.0,805.4L1754.0,806.6L1755.0,812.2L1756.0,808.2L1757.0,807.4L1758.0,811.2L1759.0,810.0L1760.0,813.1L1761.0,812.3" fill="none" stroke="url(#rg)" stroke-width="6.8" stroke-linejoin="round"/>
<!-- markers -->
<g fill="#a874dc" transform="translate(439.2,454) scale(1.0)"><circle cx="0" cy="-8.3" r="7"/><circle cx="-9.7" cy="5.8" r="6.7"/><circle cx="9.7" cy="5.8" r="6.7"/><path d="M-6,1.5 L6,1.5 L6,10 L-6,10 Z"/><path d="M-3.2,-4 L3.2,-4 L5,3 L-5,3 Z"/><path d="M-1.3,9 L1.3,9 L1.8,16.5 L-1.8,16.5 Z"/></g><g fill="#a874dc" transform="translate(593,102) scale(1.0)"><circle cx="0" cy="-8.3" r="7"/><circle cx="-9.7" cy="5.8" r="6.7"/><circle cx="9.7" cy="5.8" r="6.7"/><path d="M-6,1.5 L6,1.5 L6,10 L-6,10 Z"/><path d="M-3.2,-4 L3.2,-4 L5,3 L-5,3 Z"/><path d="M-1.3,9 L1.3,9 L1.8,16.5 L-1.8,16.5 Z"/></g><g fill="#a874dc" transform="translate(699,429) scale(1.0)"><circle cx="0" cy="-8.3" r="7"/><circle cx="-9.7" cy="5.8" r="6.7"/><circle cx="9.7" cy="5.8" r="6.7"/><path d="M-6,1.5 L6,1.5 L6,10 L-6,10 Z"/><path d="M-3.2,-4 L3.2,-4 L5,3 L-5,3 Z"/><path d="M-1.3,9 L1.3,9 L1.8,16.5 L-1.8,16.5 Z"/></g><g fill="#a874dc" transform="translate(763.3,438) scale(1.0)"><circle cx="0" cy="-8.3" r="7"/><circle cx="-9.7" cy="5.8" r="6.7"/><circle cx="9.7" cy="5.8" r="6.7"/><path d="M-6,1.5 L6,1.5 L6,10 L-6,10 Z"/><path d="M-3.2,-4 L3.2,-4 L5,3 L-5,3 Z"/><path d="M-1.3,9 L1.3,9 L1.8,16.5 L-1.8,16.5 Z"/></g><g fill="#a874dc" transform="translate(846.6,430.5) scale(1.0)"><circle cx="0" cy="-8.3" r="7"/><circle cx="-9.7" cy="5.8" r="6.7"/><circle cx="9.7" cy="5.8" r="6.7"/><path d="M-6,1.5 L6,1.5 L6,10 L-6,10 Z"/><path d="M-3.2,-4 L3.2,-4 L5,3 L-5,3 Z"/><path d="M-1.3,9 L1.3,9 L1.8,16.5 L-1.8,16.5 Z"/></g><g fill="#a874dc" transform="translate(921.4,484.6) scale(1.0)"><circle cx="0" cy="-8.3" r="7"/><circle cx="-9.7" cy="5.8" r="6.7"/><circle cx="9.7" cy="5.8" r="6.7"/><path d="M-6,1.5 L6,1.5 L6,10 L-6,10 Z"/><path d="M-3.2,-4 L3.2,-4 L5,3 L-5,3 Z"/><path d="M-1.3,9 L1.3,9 L1.8,16.5 L-1.8,16.5 Z"/></g><g fill="#a874dc" transform="translate(950.2,451.3) scale(1.0)"><circle cx="0" cy="-8.3" r="7"/><circle cx="-9.7" cy="5.8" r="6.7"/><circle cx="9.7" cy="5.8" r="6.7"/><path d="M-6,1.5 L6,1.5 L6,10 L-6,10 Z"/><path d="M-3.2,-4 L3.2,-4 L5,3 L-5,3 Z"/><path d="M-1.3,9 L1.3,9 L1.8,16.5 L-1.8,16.5 Z"/></g><g fill="#a874dc" transform="translate(1104.2,531) scale(1.0)"><circle cx="0" cy="-8.3" r="7"/><circle cx="-9.7" cy="5.8" r="6.7"/><circle cx="9.7" cy="5.8" r="6.7"/><path d="M-6,1.5 L6,1.5 L6,10 L-6,10 Z"/><path d="M-3.2,-4 L3.2,-4 L5,3 L-5,3 Z"/><path d="M-1.3,9 L1.3,9 L1.8,16.5 L-1.8,16.5 Z"/></g><g fill="#a874dc" transform="translate(1131,502) scale(1.0)"><circle cx="0" cy="-8.3" r="7"/><circle cx="-9.7" cy="5.8" r="6.7"/><circle cx="9.7" cy="5.8" r="6.7"/><path d="M-6,1.5 L6,1.5 L6,10 L-6,10 Z"/><path d="M-3.2,-4 L3.2,-4 L5,3 L-5,3 Z"/><path d="M-1.3,9 L1.3,9 L1.8,16.5 L-1.8,16.5 Z"/></g><g fill="#a874dc" transform="translate(1183.5,531) scale(1.0)"><circle cx="0" cy="-8.3" r="7"/><circle cx="-9.7" cy="5.8" r="6.7"/><circle cx="9.7" cy="5.8" r="6.7"/><path d="M-6,1.5 L6,1.5 L6,10 L-6,10 Z"/><path d="M-3.2,-4 L3.2,-4 L5,3 L-5,3 Z"/><path d="M-1.3,9 L1.3,9 L1.8,16.5 L-1.8,16.5 Z"/></g><g fill="#a874dc" transform="translate(440,678.4) scale(1.0)"><circle cx="0" cy="-8.3" r="7"/><circle cx="-9.7" cy="5.8" r="6.7"/><circle cx="9.7" cy="5.8" r="6.7"/><path d="M-6,1.5 L6,1.5 L6,10 L-6,10 Z"/><path d="M-3.2,-4 L3.2,-4 L5,3 L-5,3 Z"/><path d="M-1.3,9 L1.3,9 L1.8,16.5 L-1.8,16.5 Z"/></g><g fill="#a874dc" transform="translate(596.7,601) scale(1.0)"><circle cx="0" cy="-8.3" r="7"/><circle cx="-9.7" cy="5.8" r="6.7"/><circle cx="9.7" cy="5.8" r="6.7"/><path d="M-6,1.5 L6,1.5 L6,10 L-6,10 Z"/><path d="M-3.2,-4 L3.2,-4 L5,3 L-5,3 Z"/><path d="M-1.3,9 L1.3,9 L1.8,16.5 L-1.8,16.5 Z"/></g><g fill="#a874dc" transform="translate(699,656) scale(1.0)"><circle cx="0" cy="-8.3" r="7"/><circle cx="-9.7" cy="5.8" r="6.7"/><circle cx="9.7" cy="5.8" r="6.7"/><path d="M-6,1.5 L6,1.5 L6,10 L-6,10 Z"/><path d="M-3.2,-4 L3.2,-4 L5,3 L-5,3 Z"/><path d="M-1.3,9 L1.3,9 L1.8,16.5 L-1.8,16.5 Z"/></g><g fill="#a874dc" transform="translate(769.5,661.7) scale(1.0)"><circle cx="0" cy="-8.3" r="7"/><circle cx="-9.7" cy="5.8" r="6.7"/><circle cx="9.7" cy="5.8" r="6.7"/><path d="M-6,1.5 L6,1.5 L6,10 L-6,10 Z"/><path d="M-3.2,-4 L3.2,-4 L5,3 L-5,3 Z"/><path d="M-1.3,9 L1.3,9 L1.8,16.5 L-1.8,16.5 Z"/></g><g fill="#a874dc" transform="translate(846,678) scale(1.0)"><circle cx="0" cy="-8.3" r="7"/><circle cx="-9.7" cy="5.8" r="6.7"/><circle cx="9.7" cy="5.8" r="6.7"/><path d="M-6,1.5 L6,1.5 L6,10 L-6,10 Z"/><path d="M-3.2,-4 L3.2,-4 L5,3 L-5,3 Z"/><path d="M-1.3,9 L1.3,9 L1.8,16.5 L-1.8,16.5 Z"/></g><g fill="#a874dc" transform="translate(942,665.3) scale(1.0)"><circle cx="0" cy="-8.3" r="7"/><circle cx="-9.7" cy="5.8" r="6.7"/><circle cx="9.7" cy="5.8" r="6.7"/><path d="M-6,1.5 L6,1.5 L6,10 L-6,10 Z"/><path d="M-3.2,-4 L3.2,-4 L5,3 L-5,3 Z"/><path d="M-1.3,9 L1.3,9 L1.8,16.5 L-1.8,16.5 Z"/></g><g fill="#a874dc" transform="translate(920.1,704.4) scale(1.0)"><circle cx="0" cy="-8.3" r="7"/><circle cx="-9.7" cy="5.8" r="6.7"/><circle cx="9.7" cy="5.8" r="6.7"/><path d="M-6,1.5 L6,1.5 L6,10 L-6,10 Z"/><path d="M-3.2,-4 L3.2,-4 L5,3 L-5,3 Z"/><path d="M-1.3,9 L1.3,9 L1.8,16.5 L-1.8,16.5 Z"/></g><g fill="#a874dc" transform="translate(1102.8,746) scale(1.0)"><circle cx="0" cy="-8.3" r="7"/><circle cx="-9.7" cy="5.8" r="6.7"/><circle cx="9.7" cy="5.8" r="6.7"/><path d="M-6,1.5 L6,1.5 L6,10 L-6,10 Z"/><path d="M-3.2,-4 L3.2,-4 L5,3 L-5,3 Z"/><path d="M-1.3,9 L1.3,9 L1.8,16.5 L-1.8,16.5 Z"/></g><g fill="#a874dc" transform="translate(1129,718.6) scale(1.0)"><circle cx="0" cy="-8.3" r="7"/><circle cx="-9.7" cy="5.8" r="6.7"/><circle cx="9.7" cy="5.8" r="6.7"/><path d="M-6,1.5 L6,1.5 L6,10 L-6,10 Z"/><path d="M-3.2,-4 L3.2,-4 L5,3 L-5,3 Z"/><path d="M-1.3,9 L1.3,9 L1.8,16.5 L-1.8,16.5 Z"/></g><g fill="#a874dc" transform="translate(1182.8,746) scale(1.0)"><circle cx="0" cy="-8.3" r="7"/><circle cx="-9.7" cy="5.8" r="6.7"/><circle cx="9.7" cy="5.8" r="6.7"/><path d="M-6,1.5 L6,1.5 L6,10 L-6,10 Z"/><path d="M-3.2,-4 L3.2,-4 L5,3 L-5,3 Z"/><path d="M-1.3,9 L1.3,9 L1.8,16.5 L-1.8,16.5 Z"/></g><g transform="translate(683.5,484) scale(0.95)"><path fill="#28a862" d="M0,-13.5 C-3,-17.5 -10,-18 -14.5,-16 C-19.5,-13.5 -20.5,-6 -18.5,-1 C-15.5,6 -6,10.5 0,16.5 C6,10.5 15.5,6 18.5,-1 C20.5,-6 19.5,-13.5 14.5,-16 C10,-18 3,-17.5 0,-13.5 Z"/></g><g transform="translate(746.5,492.5) scale(0.95)"><path fill="#28a862" d="M0,-13.5 C-3,-17.5 -10,-18 -14.5,-16 C-19.5,-13.5 -20.5,-6 -18.5,-1 C-15.5,6 -6,10.5 0,16.5 C6,10.5 15.5,6 18.5,-1 C20.5,-6 19.5,-13.5 14.5,-16 C10,-18 3,-17.5 0,-13.5 Z"/></g><g transform="translate(678.5,705) scale(0.95)"><path fill="#28a862" d="M0,-13.5 C-3,-17.5 -10,-18 -14.5,-16 C-19.5,-13.5 -20.5,-6 -18.5,-1 C-15.5,6 -6,10.5 0,16.5 C6,10.5 15.5,6 18.5,-1 C20.5,-6 19.5,-13.5 14.5,-16 C10,-18 3,-17.5 0,-13.5 Z"/></g><g transform="translate(743.5,705.5) scale(0.95)"><path fill="#28a862" d="M0,-13.5 C-3,-17.5 -10,-18 -14.5,-16 C-19.5,-13.5 -20.5,-6 -18.5,-1 C-15.5,6 -6,10.5 0,16.5 C6,10.5 15.5,6 18.5,-1 C20.5,-6 19.5,-13.5 14.5,-16 C10,-18 3,-17.5 0,-13.5 Z"/></g><g transform="translate(721.4,531)"><circle r="14" fill="#fff" stroke="#9fb4d6" stroke-width="2"/><path d="M0,-15 A15,15 0 0 0 0,15 Z" fill="#1a63e0"/></g><g transform="translate(826.3,474)"><circle r="14" fill="#fff" stroke="#9fb4d6" stroke-width="2"/><path d="M0,-15 A15,15 0 0 0 0,15 Z" fill="#1a63e0"/></g><g transform="translate(1215.2,515)"><circle r="14" fill="#fff" stroke="#9fb4d6" stroke-width="2"/><path d="M0,-15 A15,15 0 0 0 0,15 Z" fill="#1a63e0"/></g><g transform="translate(719.1,743.5)"><circle r="14" fill="#fff" stroke="#9fb4d6" stroke-width="2"/><path d="M0,-15 A15,15 0 0 0 0,15 Z" fill="#1a63e0"/></g><g transform="translate(822.5,628)"><circle r="14" fill="#fff" stroke="#9fb4d6" stroke-width="2"/><path d="M0,-15 A15,15 0 0 0 0,15 Z" fill="#1a63e0"/></g><g transform="translate(1215.2,724)"><circle r="14" fill="#fff" stroke="#9fb4d6" stroke-width="2"/><path d="M0,-15 A15,15 0 0 0 0,15 Z" fill="#1a63e0"/></g>
<!-- frame -->
<g stroke="#0a0a0a" stroke-width="6" fill="none">
<rect x="177.8" y="23.5" width="1584.9" height="1274.3"/>
<line x1="177.8" y1="21" x2="177.8" y2="1300" stroke="#3c3c3c"/>
<line x1="177.5" y1="952.2" x2="1762.5" y2="952.2"/>
<line x1="177.5" y1="1124.3" x2="1762.5" y2="1124.3"/>
<line x1="177.5" y1="1297" x2="177.5" y2="1320"/><line x1="276.6" y1="1297" x2="276.6" y2="1309"/><line x1="375.6" y1="1297" x2="375.6" y2="1320"/><line x1="474.7" y1="1297" x2="474.7" y2="1309"/><line x1="573.8" y1="1297" x2="573.8" y2="1320"/><line x1="672.8" y1="1297" x2="672.8" y2="1309"/><line x1="771.9" y1="1297" x2="771.9" y2="1320"/><line x1="870.9" y1="1297" x2="870.9" y2="1309"/><line x1="970.0" y1="1297" x2="970.0" y2="1320"/><line x1="1069.1" y1="1297" x2="1069.1" y2="1309"/><line x1="1168.1" y1="1297" x2="1168.1" y2="1320"/><line x1="1267.2" y1="1297" x2="1267.2" y2="1309"/><line x1="1366.2" y1="1297" x2="1366.2" y2="1320"/><line x1="1465.3" y1="1297" x2="1465.3" y2="1309"/><line x1="1564.4" y1="1297" x2="1564.4" y2="1320"/><line x1="1663.4" y1="1297" x2="1663.4" y2="1309"/><line x1="1762.5" y1="1297" x2="1762.5" y2="1320"/>
</g>
<text transform="translate(1045.39,132.34) scale(0.6811,0.6791)" font-size="100">CoO</text><text transform="translate(1048.10,231.93) scale(0.6801,0.6851)" font-size="100">CuO</text><text transform="translate(1048.64,325.82) scale(0.6713,0.6910)" font-size="100">CaCO<tspan font-size="0.615em" dy="0.385em">3</tspan></text><text transform="translate(1294.86,132.93) scale(0.6689,0.6851)" font-size="100">PDF#70-2855</text><text transform="translate(1302.67,233.03) scale(0.6644,0.6851)" font-size="100">PDF#45-0937</text><text transform="translate(1303.68,324.97) scale(0.6608,0.6662)" font-size="100">PDF#47-1743</text><text transform="translate(1559.65,543.28) scale(0.7840,0.7155)" font-size="100">after</text><text transform="translate(1521.81,758.75) scale(0.7861,0.7451)" font-size="100">before</text><text transform="translate(1552.47,915.64) scale(0.6853,0.6791)" font-size="100">CoO</text><text transform="translate(1552.99,1083.13) scale(0.6816,0.6866)" font-size="100">CuO</text><text transform="translate(1529.31,1249.59) scale(0.6777,0.6921)" font-size="100">CaCO<tspan font-size="0.615em" dy="0.385em">3</tspan></text><text transform="translate(673.70,1495.07) scale(0.8506,0.8156)" font-size="100">2 Theta (degree)</text><text transform="translate(81.27,896.32) rotate(-90) scale(0.8414,0.8489)" font-size="100">Intensity (a.u.)</text><text transform="translate(177.50,1391.3) scale(0.695,0.684)" font-size="100" text-anchor="middle">10</text><text transform="translate(375.62,1391.3) scale(0.695,0.684)" font-size="100" text-anchor="middle">20</text><text transform="translate(573.75,1391.3) scale(0.695,0.684)" font-size="100" text-anchor="middle">30</text><text transform="translate(771.88,1391.3) scale(0.695,0.684)" font-size="100" text-anchor="middle">40</text><text transform="translate(970.00,1391.3) scale(0.695,0.684)" font-size="100" text-anchor="middle">50</text><text transform="translate(1168.12,1391.3) scale(0.695,0.684)" font-size="100" text-anchor="middle">60</text><text transform="translate(1366.25,1391.3) scale(0.695,0.684)" font-size="100" text-anchor="middle">70</text><text transform="translate(1564.38,1391.3) scale(0.695,0.684)" font-size="100" text-anchor="middle">80</text><text transform="translate(1762.50,1391.3) scale(0.695,0.684)" font-size="100" text-anchor="middle">90</text>
<!-- legend markers -->
<g transform="translate(1007.5,110.5)"><circle r="15" fill="#fff" stroke="#9fb4d6" stroke-width="2"/><path d="M0,-16 A16,16 0 0 0 0,16 Z" fill="#1a63e0"/></g>
<g transform="translate(1008,210) scale(1.0)"><path fill="#28a862" d="M0,-13.5 C-3,-17.5 -10,-18 -14.5,-16 C-19.5,-13.5 -20.5,-6 -18.5,-1 C-15.5,6 -6,10.5 0,16.5 C6,10.5 15.5,6 18.5,-1 C20.5,-6 19.5,-13.5 14.5,-16 C10,-18 3,-17.5 0,-13.5 Z"/></g>
<g fill="#a874dc" transform="translate(1005,303) scale(1.05)"><circle cx="0" cy="-8.3" r="7"/><circle cx="-9.7" cy="5.8" r="6.7"/><circle cx="9.7" cy="5.8" r="6.7"/><path d="M-6,1.5 L6,1.5 L6,10 L-6,10 Z"/><path d="M-3.2,-4 L3.2,-4 L5,3 L-5,3 Z"/><path d="M-1.3,9 L1.3,9 L1.8,16.5 L-1.8,16.5 Z"/></g>
</g>
</svg></div>
</body></html>
